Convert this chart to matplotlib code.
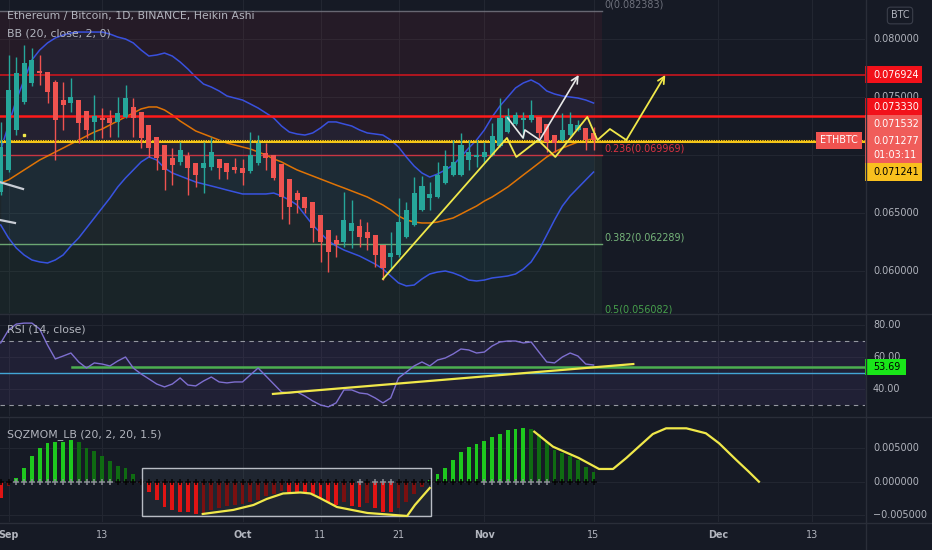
import numpy as np
import matplotlib
matplotlib.use("Agg")
from matplotlib import pyplot as plt
from matplotlib.patches import Rectangle
from matplotlib.lines import Line2D

plt.rcParams['font.family'] = ['DejaVu Sans']

# ---- data (day 0 = 1 Sep 2021, daily Heikin Ashi ETH/BTC) ----
days = np.arange(-1, 76)

ha_open = np.array([66.81, 68.71, 72.16, 74.57, 76.21, 77.24, 77.16, 76.29, 74.74, 74.48,
                    74.74, 73.79, 72.85, 73.19, 73.19, 72.85, 73.28, 74.14, 73.71, 72.59,
                    71.55, 70.86, 69.74, 69.40, 69.91, 69.31, 68.88, 68.97, 69.66, 69.31,
                    68.97, 68.88, 68.62, 69.31, 70.17, 70.00, 69.22, 67.93, 66.72, 66.38,
                    65.95, 64.83, 63.53, 62.67, 62.50, 63.45, 63.88, 63.36, 63.10, 62.24,
                    61.21, 61.38, 62.93, 63.97, 65.26, 66.29, 66.38, 67.59, 68.28, 68.28,
                    69.57, 69.83, 69.83, 70.00, 70.78, 71.98, 72.67, 73.02, 73.02, 73.28,
                    72.67, 71.72, 71.29, 71.72, 72.16, 72.33, 71.90]) / 1000
ha_close = np.array([70.69, 75.60, 77.07, 77.93, 78.19, 77.07, 75.43, 73.02, 74.31, 75.00,
                     72.76, 72.16, 73.36, 73.02, 72.76, 73.62, 74.91, 73.19, 71.47, 70.60,
                     69.74, 68.71, 69.14, 70.43, 68.88, 68.28, 69.31, 70.26, 68.88, 68.53,
                     68.71, 68.45, 70.00, 71.03, 69.74, 68.02, 66.38, 65.52, 66.12, 65.43,
                     63.71, 62.50, 61.64, 62.33, 64.40, 64.14, 62.93, 62.85, 61.38, 60.26,
                     61.55, 64.22, 65.26, 66.72, 67.33, 66.64, 68.28, 69.05, 69.40, 70.86,
                     70.26, 70.00, 70.26, 71.64, 73.19, 73.36, 73.45, 73.19, 73.45, 71.90,
                     71.12, 71.03, 72.16, 72.67, 72.59, 71.29, 71.28]) / 1000
ha_high = np.array([72.85, 78.62, 78.45, 79.48, 79.22, 78.62, 77.16, 76.47, 76.29, 76.64,
                    74.74, 73.79, 75.17, 74.05, 73.88, 75.00, 76.03, 74.91, 73.71, 72.59,
                    71.55, 70.86, 70.60, 71.12, 70.26, 69.31, 71.12, 71.55, 69.66, 69.31,
                    69.74, 69.66, 71.98, 71.72, 71.03, 70.00, 69.22, 67.93, 66.98, 66.38,
                    65.95, 64.83, 63.53, 63.10, 66.81, 66.12, 64.48, 64.22, 63.10, 62.24,
                    63.36, 66.29, 65.95, 68.10, 68.19, 67.67, 69.40, 70.43, 71.29, 71.90,
                    71.29, 71.29, 71.12, 72.76, 74.91, 74.05, 73.71, 73.71, 74.74, 73.28,
                    72.67, 71.72, 73.62, 73.71, 73.02, 72.33, 72.41]) / 1000
ha_low = np.array([66.55, 68.53, 71.72, 74.40, 75.95, 76.03, 74.48, 69.57, 72.16, 73.71,
                   71.03, 71.47, 71.29, 71.47, 71.55, 71.55, 73.19, 71.55, 70.60, 69.83,
                   68.71, 66.98, 67.41, 69.14, 66.55, 67.24, 66.72, 68.71, 67.93, 67.93,
                   68.45, 67.41, 68.45, 69.14, 68.71, 67.85, 64.48, 64.05, 65.00, 65.00,
                   62.50, 60.78, 59.91, 61.21, 62.07, 61.98, 62.07, 61.81, 60.34, 59.22,
                   60.26, 61.21, 62.85, 63.88, 65.17, 65.26, 66.29, 67.50, 68.19, 68.19,
                   68.71, 68.97, 69.31, 69.91, 70.69, 71.90, 72.59, 71.47, 72.85, 71.47,
                   70.26, 70.26, 71.21, 71.64, 72.07, 70.43, 70.43]) / 1000

bb_upper = np.array([70.43, 72.59, 74.74, 76.47, 78.19, 79.05, 79.66, 80.09, 80.34, 80.52,
                     80.60, 80.60, 80.60, 80.60, 80.43, 80.17, 80.00, 79.66, 79.05, 78.53,
                     78.62, 78.79, 78.53, 78.02, 77.41, 76.72, 76.12, 75.86, 75.52, 75.09,
                     74.91, 74.74, 74.40, 74.05, 73.62, 73.19, 72.50, 71.98, 71.81, 71.72,
                     71.90, 72.33, 72.85, 72.85, 72.67, 72.50, 72.16, 71.90, 71.81, 71.72,
                     71.29, 70.69, 69.83, 69.05, 68.45, 68.10, 68.36, 68.71, 69.14, 69.83,
                     70.60, 71.29, 72.16, 73.28, 74.22, 75.00, 75.78, 76.21, 76.47, 76.12,
                     75.52, 75.26, 75.09, 75.00, 74.91, 74.74, 74.48]) / 1000
bb_basis = np.array([67.59, 67.85, 68.28, 68.71, 69.14, 69.57, 69.91, 70.26, 70.60, 70.95,
                     71.29, 71.64, 71.98, 72.24, 72.59, 72.93, 73.28, 73.62, 73.97, 74.14,
                     74.14, 73.88, 73.45, 72.93, 72.50, 72.07, 71.81, 71.55, 71.29, 71.03,
                     70.86, 70.69, 70.52, 70.26, 70.00, 69.66, 69.40, 69.05, 68.71, 68.45,
                     68.19, 67.93, 67.67, 67.41, 67.16, 66.90, 66.64, 66.38, 66.03, 65.69,
                     65.26, 64.74, 64.40, 64.22, 64.14, 64.14, 64.22, 64.40, 64.57, 64.91,
                     65.26, 65.60, 66.03, 66.38, 66.81, 67.24, 67.76, 68.28, 68.79, 69.31,
                     69.83, 70.26, 70.60, 70.86, 71.12, 71.29, 71.38]) / 1000
bb_lower = np.array([63.97, 62.85, 61.98, 61.38, 60.95, 60.78, 60.69, 60.95, 61.38, 62.16,
                     62.85, 63.71, 64.57, 65.43, 66.29, 67.24, 68.02, 68.71, 69.40, 69.83,
                     69.57, 68.88, 68.45, 68.19, 67.93, 67.67, 67.50, 67.33, 67.16, 66.98,
                     66.81, 66.64, 66.64, 66.64, 66.64, 66.72, 66.47, 66.12, 65.69, 64.83,
                     63.97, 63.28, 62.59, 62.16, 61.81, 61.55, 61.29, 60.95, 60.60, 60.17,
                     59.57, 58.97, 58.71, 58.79, 59.31, 59.74, 59.91, 60.00, 59.83, 59.57,
                     59.22, 59.14, 59.22, 59.40, 59.48, 59.57, 59.74, 60.17, 60.78, 61.81,
                     63.10, 64.40, 65.60, 66.47, 67.16, 67.85, 68.53]) / 1000

rsi = np.array([68.8, 76.9, 80.6, 81.2, 81.2, 77.5, 67.5, 58.8, 60.6, 62.5,
                56.9, 53.1, 56.3, 55.6, 54.4, 57.5, 60.0, 53.1, 49.4, 46.3,
                43.1, 41.3, 43.1, 46.9, 42.5, 41.9, 45.0, 47.5, 44.4, 43.8,
                44.4, 44.4, 48.8, 53.1, 48.1, 43.1, 38.1, 37.5, 38.1, 35.6,
                32.5, 30.0, 28.8, 31.3, 39.4, 39.4, 37.5, 36.9, 34.4, 31.3,
                34.4, 46.9, 50.6, 54.4, 56.9, 54.4, 58.1, 59.4, 61.9, 65.0,
                64.4, 62.5, 63.1, 66.9, 69.4, 70.0, 70.0, 68.8, 69.4, 63.1,
                56.9, 56.3, 60.0, 62.5, 60.6, 55.6, 55.0])

sqz = np.array([-2.4, -0.7, 0.6, 2.1, 3.8, 5.0, 5.8, 5.9, 6.0, 6.2,
                5.9, 5.1, 4.6, 3.9, 3.1, 2.4, 2.0, 1.1, -0.2, -1.6,
                -2.8, -3.8, -4.3, -4.5, -4.6, -4.8, -4.7, -4.2, -4.0, -3.6,
                -3.5, -3.3, -3.1, -2.7, -2.2, -1.8, -1.4, -1.5, -1.6, -1.7,
                -1.9, -2.5, -3.1, -3.5, -3.0, -3.6, -3.8, -3.2, -4.0, -4.5,
                -4.6, -4.0, -3.0, -1.9, -0.8, 0.2, 1.2, 2.1, 3.2, 4.4,
                5.2, 5.6, 6.1, 6.6, 7.1, 7.7, 7.9, 8.0, 7.8, 7.1,
                6.0, 4.8, 4.3, 3.8, 3.3, 2.2, 1.5]) / 1000
sqz_off_days = list(range(1, 14)) + [45, 47, 48, 49] + list(range(61, 70))

fib_levels = ['0', '0.236', '0.382', '0.5']
fib_prices = [0.082383, 0.069969, 0.062289, 0.056082]
fib_colors = ['#787b86', '#f23645', '#81c784', '#4caf50']
fib_end = 76.1

res_lines = [0.076924, 0.073330]
last_price = 0.071277
hline_price = 0.071241
rsi_line = 53.69

date_days = [0, 12, 30, 40, 50, 61, 75, 91, 103]
date_labels = ['Sep', '13', 'Oct', '11', '21', 'Nov', '15', 'Dec', '13']
month_labels = ['Sep', 'Oct', 'Nov', 'Dec']

price_ticks = [0.080, 0.075, 0.065, 0.060]
rsi_ticks = [80, 60, 40]
sqz_ticks = [0.005, 0.0, -0.005]

# hand drawings (day, value)
yel_d = [48.0, 63.9, 65.1, 67.9, 70.1, 74.2, 75.5, 77.1, 79.2, 84.2]
yel_p = [0.05931, 0.07147, 0.06983, 0.07129, 0.06983, 0.07328, 0.07129, 0.07224, 0.07129, 0.07690]
wht_d = [64.0, 65.96, 66.2, 68.1, 73.1]
wht_p = [0.07319, 0.07147, 0.07216, 0.07129, 0.07690]
left1_d, left1_p = [-1.2, 1.86], [0.06768, 0.06707]
left2_d, left2_p = [-1.2, 0.83], [0.06441, 0.06414]
rsi_trend_d, rsi_trend_v = [33.9, 80.1], [36.9, 55.6]
curve1_d = [24.9, 28.8, 31.4, 33.1, 35.2, 37.4, 38.7, 39.9, 42.1, 46.0, 51.1, 52.1, 54.0]
curve1_v = np.array([-4.82, -4.22, -3.48, -2.58, -1.76, -1.61, -1.76, -2.43, -3.78, -4.67,
                     -5.12, -3.48, -0.94]) / 1000
curve2_d = [67.4, 69.8, 73.1, 75.7, 77.5, 79.2, 80.8, 82.6, 84.3, 86.9, 89.4, 91.1, 93.3, 94.9, 96.2]
curve2_v = np.array([7.47, 5.23, 3.54, 1.90, 1.90, 3.54, 5.23, 7.12, 7.97, 7.97, 7.23, 5.73,
                     3.24, 1.49, 0.0]) / 1000
box_d = [17.1, 54.1]
box_v = [-0.00512, 0.00209]

# ---- style ----
BG = '#161a25'
GRID = '#222631'
TXT = '#b2b5be'
UP, DN = '#26a69a', '#ef5350'
W, H = 932.0, 550.0

fig = plt.figure(figsize=(9.32, 5.5), dpi=100)
fig.patch.set_facecolor(BG)


def pane(top, bottom):
    a = fig.add_axes([0, 1 - bottom / H, 865 / W, (bottom - top) / H])
    a.set_facecolor(BG)
    for s in a.spines.values():
        s.set_visible(False)
    a.set_xticks([])
    a.set_yticks([])
    a.set_xlim(-1.09, 109.8)
    for d in date_days:
        a.axvline(d, color=GRID, lw=0.8, zorder=0)
    return a


ax = pane(0, 313)
ax_rsi = pane(314, 416)
ax_sqz = pane(417, 522)
ax.set_ylim(0.056379, 0.083362)
ax_rsi.set_ylim(23.1, 86.9)
ax_sqz.set_ylim(-0.00602, 0.00966)

PPX = (0.083362 - 0.056379) / 313.0
LX = 873 / 865.0
BW = 57 / 865.0
fs = 6.9
tfs = 7.8

# ---- main pane ----
for v in price_ticks + [0.070]:
    ax.axhline(v, color=GRID, lw=0.8, zorder=0)

for i in range(len(fib_prices) - 1):
    ax.fill_between([-5, fib_end], fib_prices[i], fib_prices[i + 1],
                    color=fib_colors[i + 1], alpha=0.07, lw=0, zorder=0.5)
for lvl, p, c in zip(fib_levels, fib_prices, fib_colors):
    ax.plot([-5, fib_end], [p, p], color=c, lw=1, alpha=0.8, zorder=1)
    ax.text(fib_end + 0.35, p + 2 * PPX, '%s(%.6f)' % (lvl, p), color=c, fontsize=fs,
            ha='left', va='bottom', alpha=0.9, zorder=6)

ax.fill_between(days, bb_lower, bb_upper, color='#2196f3', alpha=0.05, lw=0, zorder=0.6)
ax.plot(days, bb_upper, color='#3d5afe', lw=1.1, alpha=0.85, zorder=2)
ax.plot(days, bb_lower, color='#3d5afe', lw=1.1, alpha=0.85, zorder=2)
ax.plot(days, bb_basis, color='#f57c00', lw=1.1, alpha=0.9, zorder=2)

ax.axhline(res_lines[0], color='#c8161e', lw=1.2, zorder=2.5)
ax.axhline(res_lines[1], color='#ff1a1a', lw=1.8, zorder=2.5)
ax.axhline(hline_price, color='#f5c518', lw=2.2, zorder=2.6)
ax.axhline(last_price, color='#111111', lw=0.7, ls=(0, (1, 1.5)), zorder=2.7)

cols = np.where(ha_close >= ha_open, UP, DN)
ax.vlines(days, ha_low, ha_high, colors=cols, lw=1, zorder=3)
body = np.maximum(np.abs(ha_close - ha_open), 1.2 * PPX)
ax.bar(days, body, bottom=np.minimum(ha_open, ha_close), width=0.66, color=cols, lw=0, zorder=3.1)

ax.plot(yel_d[:-1], yel_p[:-1], color='#f0e84a', lw=1.3, zorder=4)
ax.annotate('', xy=(yel_d[-1], yel_p[-1]), xytext=(yel_d[-2], yel_p[-2]),
            arrowprops=dict(arrowstyle='->', color='#f0e84a', lw=1.3, mutation_scale=12,
                            shrinkA=0, shrinkB=0), zorder=4)
ax.plot(wht_d[:-1], wht_p[:-1], color='#e8e8e8', lw=1.2, zorder=4)
ax.annotate('', xy=(wht_d[-1], wht_p[-1]), xytext=(wht_d[-2], wht_p[-2]),
            arrowprops=dict(arrowstyle='->', color='#e8e8e8', lw=1.2, mutation_scale=12,
                            shrinkA=0, shrinkB=0), zorder=4)
ax.plot(left1_d, left1_p, color='#c8ccd4', lw=1.6, zorder=4)
ax.plot(left2_d, left2_p, color='#c8ccd4', lw=1.6, zorder=4)
ax.plot([2.0], [0.07172], 's', color='#f0e84a', ms=1.6, zorder=4)

ax.text(0.008, 1 - 16 / 313.0, 'Ethereum / Bitcoin, 1D, BINANCE, Heikin Ashi', transform=ax.transAxes,
        color=TXT, fontsize=tfs, ha='left', va='center', zorder=7)
ax.text(0.008, 1 - 34 / 313.0, 'BB (20, close, 2, 0)', transform=ax.transAxes,
        color=TXT, fontsize=tfs, ha='left', va='center', zorder=7)

# ETHBTC tag on the price line
ax.add_patch(Rectangle((816 / 865.0, last_price - 8.5 * PPX), 46 / 865.0, 17 * PPX,
                       transform=ax.get_yaxis_transform(), fc='#ef5350', ec='none', zorder=8))
ax.text(839 / 865.0, last_price, 'ETHBTC', transform=ax.get_yaxis_transform(), color='white',
        fontsize=fs, ha='center', va='center', zorder=9)

# right price scale
yt = ax.get_yaxis_transform()
for v in price_ticks:
    ax.text(LX, v, '%.6f' % v, transform=yt, color=TXT, fontsize=fs, ha='left', va='center',
            clip_on=False, zorder=5)


def tag(a, center, hpx, fc, ppx, width=BW):
    a.add_patch(Rectangle((1.0, center - hpx / 2 * ppx), width, hpx * ppx, transform=a.get_yaxis_transform(),
                          fc=fc, ec='none', clip_on=False, zorder=8))


tag(ax, res_lines[0], 17, '#f2111a', PPX)
ax.text(LX, res_lines[0], '%.6f' % res_lines[0], transform=yt, color='white', fontsize=fs,
        va='center', clip_on=False, zorder=9)
# stacked labels around the last price
c733 = last_price + 33.5 * PPX
tag(ax, c733, 17, '#f2111a', PPX)
ax.text(LX, c733, '%.6f' % res_lines[1], transform=yt, color='white', fontsize=fs,
        va='center', clip_on=False, zorder=9)
tag(ax, last_price + 16.5 * PPX, 17, '#f05d5a', PPX)
ax.text(LX, last_price + 16 * PPX, '0.071532', transform=yt, color='white', fontsize=fs,
        va='center', clip_on=False, zorder=9)
tag(ax, last_price - 7.5 * PPX, 31, '#f05d5a', PPX)
ax.text(LX, last_price - 1 * PPX, '%.6f' % last_price, transform=yt, color='white', fontsize=fs,
        va='center', clip_on=False, zorder=9)
ax.text(LX, last_price - 15 * PPX, '01:03:11', transform=yt, color='white', fontsize=fs,
        va='center', clip_on=False, zorder=9)
tag(ax, last_price - 32 * PPX, 18, '#f9c01e', PPX)
ax.text(LX, last_price - 32 * PPX, '%.6f' % hline_price, transform=yt, color='black', fontsize=fs,
        va='center', clip_on=False, zorder=9)

fig.text(900 / W, 1 - 15.5 / H, 'BTC', color=TXT, fontsize=fs, ha='center', va='center',
         bbox=dict(boxstyle='round,pad=0.35', fc=BG, ec='#3a3e4a', lw=0.8))

# ---- RSI pane ----
RPX = (86.9 - 23.1) / 102.0
for v in rsi_ticks:
    ax_rsi.axhline(v, color=GRID, lw=0.8, zorder=0)
ax_rsi.fill_between([-5, 112], 30, 70, color='#7e57c2', alpha=0.1, lw=0, zorder=0.5)
ax_rsi.axhline(70, color='#9598a1', lw=0.8, ls=(0, (4, 4)), zorder=1)
ax_rsi.axhline(30, color='#9598a1', lw=0.8, ls=(0, (4, 4)), zorder=1)
ax_rsi.axhline(50, color='#42a5d5', lw=1, zorder=1)
ax_rsi.plot([8.1, 112], [rsi_line, rsi_line], color='#4caf50', lw=1.8, zorder=1.5)
ax_rsi.plot(days, rsi, color='#7e6fd0', lw=1, zorder=2)
ax_rsi.plot(rsi_trend_d, rsi_trend_v, color='#f0e84a', lw=1.6, zorder=3)
ax_rsi.text(0.008, 1 - 15 / 102.0, 'RSI (14, close)', transform=ax_rsi.transAxes, color=TXT,
            fontsize=tfs, ha='left', va='center')
ryt = ax_rsi.get_yaxis_transform()
for v in rsi_ticks:
    ax_rsi.text(LX, v, '%.2f' % v, transform=ryt, color=TXT, fontsize=fs, va='center',
                clip_on=False, zorder=5)
tag(ax_rsi, rsi_line, 16, '#19e619', RPX, width=41 / 865.0)
ax_rsi.text(LX, rsi_line, '%.2f' % rsi_line, transform=ryt, color='black', fontsize=fs,
            va='center', clip_on=False, zorder=9)

# ---- SQZMOM pane ----
for v in sqz_ticks:
    ax_sqz.axhline(v, color=GRID, lw=0.8, zorder=0)
prev = np.concatenate([[sqz[0] + 1], sqz[:-1]])
bar_cols = np.where(sqz > 0, np.where(sqz > prev, '#1ec81e', '#0f6b12'),
                    np.where(sqz < prev, '#e01414', '#7a1010'))
ax_sqz.bar(days, sqz, width=0.5, color=bar_cols, lw=0, zorder=2)
off = np.isin(days, sqz_off_days)
ax_sqz.plot(days[off], np.zeros(off.sum()), '+', color='#8a8d94', ms=4, mew=1.1, zorder=3)
ax_sqz.plot(days[~off], np.zeros((~off).sum()), '+', color='#050505', ms=4, mew=1.1, zorder=3)
ax_sqz.add_patch(Rectangle((box_d[0], box_v[0]), box_d[1] - box_d[0], box_v[1] - box_v[0],
                           fc='#8fb3b3', alpha=0.08, ec='none', zorder=1))
ax_sqz.add_patch(Rectangle((box_d[0], box_v[0]), box_d[1] - box_d[0], box_v[1] - box_v[0],
                           fc='none', ec='#b8bcc4', lw=1, zorder=4))
ax_sqz.plot(curve1_d, curve1_v, color='#f0e84a', lw=1.6, zorder=5, solid_joinstyle='round')
ax_sqz.plot(curve2_d, curve2_v, color='#f0e84a', lw=1.6, zorder=5, solid_joinstyle='round')
ax_sqz.text(0.008, 1 - 18 / 105.0, 'SQZMOM_LB (20, 2, 20, 1.5)', transform=ax_sqz.transAxes,
            color=TXT, fontsize=tfs, ha='left', va='center')
syt = ax_sqz.get_yaxis_transform()
for v in sqz_ticks:
    ax_sqz.text(LX, v, ('%.6f' % v).replace('-', '\u2212'), transform=syt, color=TXT, fontsize=fs,
                va='center', clip_on=False, zorder=5)

# date axis
xt = ax_sqz.get_xaxis_transform()
for d, lab in zip(date_days, date_labels):
    ax_sqz.text(d, -13 / 105.0, lab, transform=xt, color=TXT, fontsize=fs, ha='center', va='center',
                fontweight='bold' if lab in month_labels else 'normal', clip_on=False)

# pane separators
for yy in [313.5, 416.5, 522.5]:
    fig.add_artist(Line2D([0, 1], [1 - yy / H, 1 - yy / H], color='#2a2e39', lw=1))
fig.add_artist(Line2D([865.5 / W, 865.5 / W], [0, 1], color='#2a2e39', lw=1))

fig.savefig('out.png', dpi=100, facecolor=BG)
